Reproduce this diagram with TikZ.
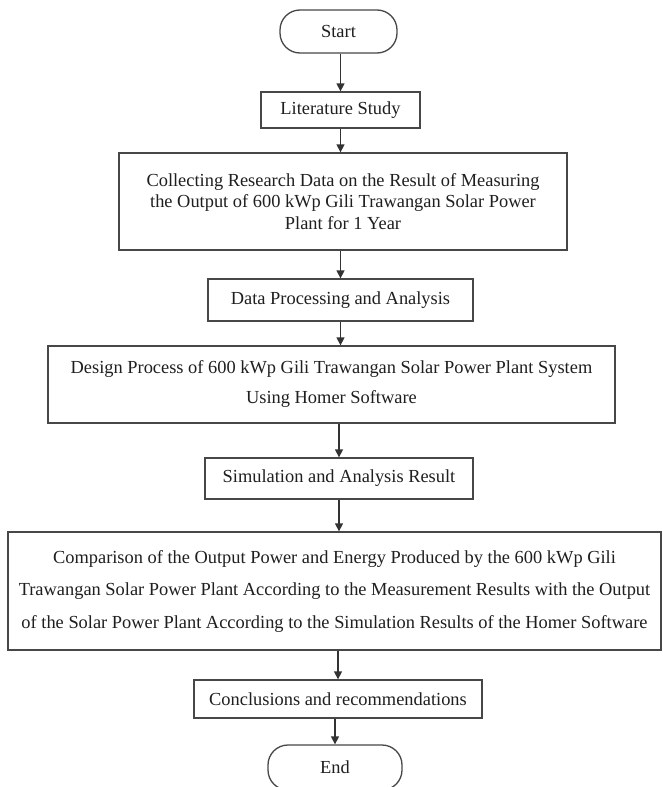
\documentclass[tikz,border=0pt]{standalone}
\usepackage{fontspec}
\setmainfont{Liberation Serif}
\usetikzlibrary{arrows.meta}
\begin{document}
\begin{tikzpicture}[x=1pt,y=-1pt,
  box/.style={draw=black!72, line width=1.3pt, inner sep=0pt, align=center, text=black!88,
    font=\fontsize{18.4pt}{21.5pt}\selectfont},
  term/.style={box, rounded corners=20pt},
  arr/.style={draw=black!80, line width=1.3pt, -{Triangle[width=8pt,length=8pt]}}]
\useasboundingbox (0,0) rectangle (662,787);
\fill[white] (0,0) rectangle (662,787);
\clip (0,0) rectangle (662,787);

\node[term, minimum width=117pt, minimum height=43pt] (start) at (338.5,31.5) {Start};
\node[box, minimum width=159pt, minimum height=36pt] (lit) at (340.5,110) {Literature Study};
\node[box, minimum width=448pt, minimum height=97pt] (coll) at (343,201.5)
  {Collecting Research Data on the Result of Measuring\\
   the Output of 600 kWp Gili Trawangan Solar Power\\
   Plant for 1 Year};
\node[box, minimum width=265pt, minimum height=42pt] (dp) at (340.5,300) {Data Processing and Analysis};
\node[box, minimum width=567pt, minimum height=77pt, font=\fontsize{18.4pt}{30pt}\selectfont] (design) at (331.5,384.5)
  {Design Process of 600 kWp Gili Trawangan Solar Power Plant System\\
   Using Homer Software};
\node[box, minimum width=268pt, minimum height=41pt] (sim) at (339,478.5) {Simulation and Analysis Result};
\node[box, minimum width=653pt, minimum height=118pt, font=\fontsize{18.4pt}{32.5pt}\selectfont] (comp) at (334.5,591)
  {Comparison of the Output Power and Energy Produced by the 600 kWp Gili\\
   Trawangan Solar Power Plant According to the Measurement Results with the Output\\
   of the Solar Power Plant According to the Simulation Results of the Homer Software};
\node[box, minimum width=288pt, minimum height=38pt] (concl) at (338,699) {Conclusions and recommendations};
\node[term, minimum width=134pt, minimum height=45pt] (end) at (335,767.5) {End};

\draw[arr] (start.south -| lit.north) -- (lit.north);
\draw[arr] (lit.south) -- (lit.south |- coll.north);
\draw[arr] (coll.south -| dp.north) -- (dp.north);
\draw[arr] (dp.south) -- (dp.south |- design.north);
\draw[arr] (design.south -| sim.north) -- (sim.north);
\draw[arr] (sim.south) -- (sim.south |- comp.north);
\draw[arr] (comp.south -| concl.north) -- (concl.north);
\draw[arr] (concl.south -| end.north) -- (end.north);
\end{tikzpicture}
\end{document}
